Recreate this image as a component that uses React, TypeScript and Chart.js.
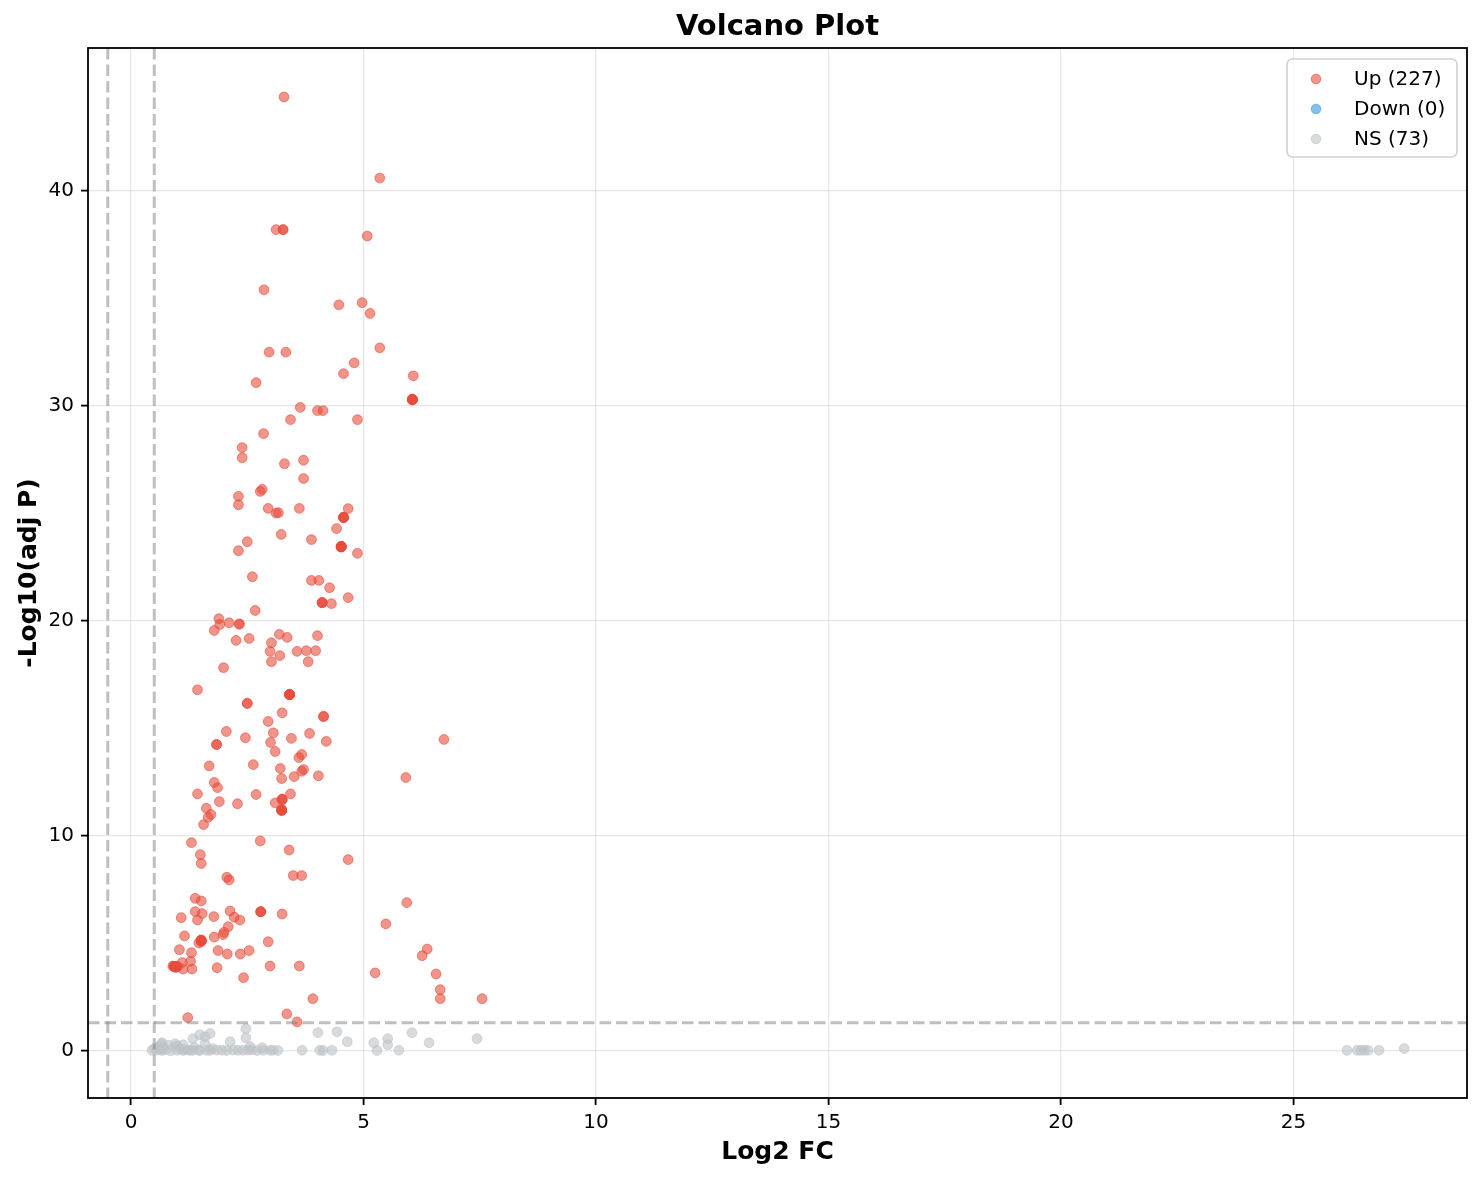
import React, { useEffect, useRef } from "react";
import { Chart, registerables } from "chart.js";

Chart.register(...registerables);

// ---------- data ----------
const upLog2FC = [
  3.29, 5.35, 3.12, 3.27, 3.27, 5.08, 2.86, 4.47, 4.97, 5.14, 2.97, 3.33, 5.35, 4.80, 4.57, 2.69, 6.07,
  6.05, 6.05, 6.05, 6.05, 6.05, 6.05,
  3.64, 4.01, 4.13, 3.43, 4.87, 2.85, 2.39, 2.39, 3.30, 3.71, 3.71, 2.82, 2.78, 2.31, 2.31, 2.95, 3.12, 3.17, 3.62, 4.67,
  4.57, 4.57, 4.57, 4.57,
  4.42, 3.23, 3.88, 2.50, 2.31,
  4.52, 4.52, 4.52, 4.52, 4.52, 4.52, 4.52,
  4.87, 2.61, 3.88, 4.04, 4.27, 4.67,
  4.11, 4.11, 4.11,
  4.31, 2.67, 1.89, 1.91, 2.11,
  2.33, 2.33,
  1.79, 2.26, 2.54, 3.19, 3.36, 4.01, 3.02, 2.99, 3.20, 3.57, 3.77, 3.97, 3.02, 3.81, 1.99, 1.43,
  3.41, 3.41, 3.41, 3.41, 3.41,
  2.50, 2.50,
  3.25, 2.95,
  4.14, 4.14,
  2.05, 3.06, 2.46, 3.84, 3.45, 4.20, 3.00,
  1.84, 1.84,
  3.10, 3.67, 3.61, 1.68, 2.63, 3.21, 3.71, 3.67, 3.24, 3.51, 4.03, 5.91, 1.79, 1.86, 1.43, 2.69, 3.43,
  3.25, 3.25, 3.25,
  3.10, 1.90, 2.29,
  3.24, 3.24, 3.24, 3.24, 3.24,
  1.62, 1.72, 1.66, 1.56, 1.30, 2.78, 1.49, 1.51, 3.40, 4.67, 6.73, 2.06, 2.11, 3.49, 3.67, 1.38, 1.51, 5.93, 1.38, 1.53,
  1.43, 1.08, 1.78, 2.13, 2.22, 2.34,
  2.79, 2.79, 2.79,
  3.25, 5.48, 2.09, 2.00, 1.98, 1.15, 1.79,
  1.51, 1.51, 1.51, 1.51, 1.51, 1.51,
  1.46, 2.95, 6.37, 6.26, 1.04, 1.30, 1.87, 2.07, 2.35, 2.54, 1.28,
  0.92, 0.94, 0.95, 0.96, 0.98, 0.90, 0.93, 0.97, 1.00, 0.95,
  1.12, 1.31, 1.10, 1.85, 2.99, 3.62, 5.25, 6.56, 2.42, 6.65, 6.65, 7.55, 3.91, 1.22, 3.35, 3.57,
];
const upNegLog10P = [
  44.37, 40.6, 38.2, 38.2, 38.2, 37.9, 35.4, 34.7, 34.8, 34.3, 32.5, 32.5, 32.7, 32.0, 31.5, 31.08, 31.4,
  30.29, 30.29, 30.32, 30.27, 30.3, 30.3,
  29.93, 29.78, 29.78, 29.36, 29.36, 28.71, 28.06, 27.59, 27.31, 27.47, 26.62, 26.12, 26.02, 25.79, 25.4, 25.23, 25.01, 25.03, 25.23, 25.22,
  24.81, 24.81, 24.83, 24.79,
  24.29, 24.02, 23.78, 23.68, 23.26,
  23.45, 23.45, 23.47, 23.43, 23.45, 23.46, 23.44,
  23.14, 22.05, 21.88, 21.88, 21.54, 21.08,
  20.84, 20.84, 20.86,
  20.80, 20.48, 20.1, 19.83, 19.91,
  19.86, 19.84,
  19.55, 19.09, 19.18, 19.37, 19.23, 19.31, 18.98, 18.58, 18.38, 18.58, 18.61, 18.61, 18.1, 18.1, 17.82, 16.79,
  16.57, 16.57, 16.59, 16.55, 16.57,
  16.17, 16.15,
  15.72, 15.32,
  15.56, 15.54,
  14.85, 14.79, 14.56, 14.76, 14.53, 14.39, 14.34,
  14.25, 14.24,
  13.92, 13.78, 13.64, 13.25, 13.31, 13.13, 13.08, 13.0, 12.66, 12.75, 12.79, 12.71, 12.48, 12.24, 11.95, 11.92, 11.95,
  11.69, 11.71, 11.67,
  11.53, 11.59, 11.49,
  11.19, 11.21, 11.17, 11.2, 11.19,
  11.28, 10.99, 10.86, 10.52, 9.68, 9.76, 9.12, 8.71, 9.34, 8.89, 14.48, 8.07, 7.95, 8.15, 8.15, 7.09, 6.97, 6.89, 6.47, 6.38,
  6.08, 6.19, 6.24, 6.5, 6.21, 6.08,
  6.47, 6.47, 6.46,
  6.36, 5.90, 5.77, 5.51, 5.40, 5.34, 5.29,
  5.12, 5.14, 5.10, 5.16, 5.08, 5.12,
  5.01, 5.07, 4.73, 4.42, 4.70, 4.56, 4.66, 4.50, 4.50, 4.66, 4.16,
  3.93, 3.90, 3.91, 3.92, 3.89, 3.94, 3.90, 3.88, 3.92, 3.91,
  3.80, 3.80, 4.10, 3.86, 3.94, 3.94, 3.62, 3.57, 3.40, 2.84, 2.42, 2.42, 2.42, 1.54, 1.71, 1.34,
];

const downLog2FC: number[] = [];
const downNegLog10P: number[] = [];

const nsLog2FC = [
  0.45, 0.56, 0.67, 0.99, 1.12, 1.23, 1.33, 1.48, 1.63, 1.85, 1.96, 2.06, 2.41, 2.52, 2.71, 2.84, 2.99, 3.16,
  3.68, 4.06, 4.13, 4.32, 5.29, 5.76,
  0.67, 0.99, 1.12, 1.33, 1.48, 1.59, 1.70, 1.59, 2.13, 2.47, 2.47, 2.56, 2.82, 4.02, 4.43, 4.65, 5.22, 5.52,
  5.52, 6.04, 6.41, 7.44,
  26.15, 26.37, 26.45, 26.52, 26.60, 26.84, 27.38,
  0.50, 0.60, 0.65, 0.70, 0.75, 0.80, 0.85, 0.62, 1.05, 1.15, 1.28, 1.36, 1.45, 1.70, 1.75, 2.20, 2.30, 2.60,
  3.05, 0.95,
];
const nsNegLog10P = [
  0.02, 0.03, 0.01, 0.02, 0.01, 0.03, 0.02, 0.01, 0.02, 0.03, 0.02, 0.01, 0.02, 0.03, 0.01, 0.02, 0.02, 0.01,
  0.02, 0.02, 0.01, 0.02, 0.01, 0.02,
  0.37, 0.23, 0.28, 0.56, 0.74, 0.65, 0.80, 0.33, 0.42, 1.02, 0.60, 0.19, 0.14, 0.84, 0.88, 0.42, 0.37, 0.56,
  0.28, 0.84, 0.37, 0.56,
  0.02, 0.02, 0.02, 0.02, 0.02, 0.02, 0.10,
  0.10, 0.20, 0.30, 0.12, 0.05, 0.25, 0.00, 0.05, 0.10, 0.05, 0.02, 0.15, 0.03, 0.02, 0.10, 0.03, 0.02, 0.04,
  0.02, 0.32,
];

const seriesLabels = ["Up (227)", "Down (0)", "NS (73)"];
const xTicks = [0, 5, 10, 15, 20, 25];
const yTicks = [0, 10, 20, 30, 40];
const fcThresholds = [-0.5, 0.5];
const pThreshold = 1.3;

const RED = "231,76,60";
const BLUE = "52,152,219";
const GREY = "189,195,199";
const FONT = "'DejaVu Sans', 'Liberation Sans', sans-serif";

const toPoints = (xs: number[], ys: number[]) => xs.map((x, i) => ({ x, y: ys[i] }));

const overlay = {
  id: "overlay",
  afterDatasetsDraw(chart: any) {
    const { ctx, chartArea: a, scales } = chart;
    const sx = scales.x;
    const sy = scales.y;
    ctx.save();
    ctx.beginPath();
    ctx.rect(a.left, a.top, a.right - a.left, a.bottom - a.top);
    ctx.clip();
    ctx.strokeStyle = "rgba(128,128,128,0.5)";
    ctx.lineWidth = 3;
    ctx.setLineDash([11.5, 5]);
    fcThresholds.forEach((v) => {
      const px = sx.getPixelForValue(v);
      ctx.beginPath();
      ctx.moveTo(px, a.top);
      ctx.lineTo(px, a.bottom);
      ctx.stroke();
    });
    const py = sy.getPixelForValue(pThreshold);
    ctx.beginPath();
    ctx.moveTo(a.left, py);
    ctx.lineTo(a.right, py);
    ctx.stroke();
    ctx.restore();
  },
  afterDraw(chart: any) {
    const { ctx, chartArea: a } = chart;
    ctx.save();
    // spines
    ctx.strokeStyle = "#000";
    ctx.lineWidth = 1.8;
    ctx.strokeRect(a.left, a.top, a.right - a.left, a.bottom - a.top);

    // titles
    ctx.fillStyle = "#000";
    ctx.textAlign = "center";
    ctx.textBaseline = "middle";
    ctx.font = `bold 29px ${FONT}`;
    ctx.fillText("Volcano Plot", (a.left + a.right) / 2, 27);
    ctx.font = `bold 25px ${FONT}`;
    ctx.fillText("Log2 FC", (a.left + a.right) / 2, 1152);
    ctx.save();
    ctx.translate(29, (a.top + a.bottom) / 2);
    ctx.rotate(-Math.PI / 2);
    ctx.fillText("-Log10(adj P)", 0, 0);
    ctx.restore();

    // legend
    const bx = 1287, by = 59, bw = 170, bh = 98, r = 6;
    ctx.beginPath();
    ctx.moveTo(bx + r, by);
    ctx.lineTo(bx + bw - r, by);
    ctx.quadraticCurveTo(bx + bw, by, bx + bw, by + r);
    ctx.lineTo(bx + bw, by + bh - r);
    ctx.quadraticCurveTo(bx + bw, by + bh, bx + bw - r, by + bh);
    ctx.lineTo(bx + r, by + bh);
    ctx.quadraticCurveTo(bx, by + bh, bx, by + bh - r);
    ctx.lineTo(bx, by + r);
    ctx.quadraticCurveTo(bx, by, bx + r, by);
    ctx.closePath();
    ctx.fillStyle = "rgba(255,255,255,0.8)";
    ctx.fill();
    ctx.strokeStyle = "#d0d0d0";
    ctx.lineWidth = 1.5;
    ctx.stroke();

    const cols = [RED, BLUE, GREY];
    const rows = [79, 109, 139];
    ctx.font = `20px ${FONT}`;
    ctx.textAlign = "left";
    ctx.textBaseline = "middle";
    chart.data.datasets.forEach((ds: any, i: number) => {
      ctx.beginPath();
      ctx.arc(1316, rows[i], 4.8, 0, Math.PI * 2);
      ctx.fillStyle = `rgba(${cols[i]},0.6)`;
      ctx.fill();
      ctx.strokeStyle = `rgba(${cols[i]},0.6)`;
      ctx.lineWidth = 1;
      ctx.stroke();
      ctx.fillStyle = "#000";
      ctx.fillText(ds.label, 1354, rows[i] + 1);
    });
    ctx.restore();
  },
};

export default function App() {
  const ref = useRef<HTMLCanvasElement | null>(null);

  useEffect(() => {
    document.body.style.margin = "0";
    const canvas = ref.current;
    if (!canvas) return;
    const mk = (label: string, col: string, data: any[]) => ({
      label,
      data,
      backgroundColor: `rgba(${col},0.6)`,
      borderColor: `rgba(${col},0.6)`,
      borderWidth: 1,
      pointRadius: 4.9,
      pointHoverRadius: 4.9,
    });
    const chart = new Chart(canvas, {
      type: "scatter",
      data: {
        datasets: [
          mk(seriesLabels[0], RED, toPoints(upLog2FC, upNegLog10P)),
          mk(seriesLabels[1], BLUE, toPoints(downLog2FC, downNegLog10P)),
          mk(seriesLabels[2], GREY, toPoints(nsLog2FC, nsNegLog10P)),
        ],
      },
      options: {
        responsive: false,
        animation: false,
        devicePixelRatio: 1,
        layout: { padding: { left: 0, top: 48, right: 15, bottom: 0 } },
        plugins: {
          legend: { display: false },
          title: { display: false },
          tooltip: { enabled: false },
        },
        scales: {
          x: {
            type: "linear",
            min: -0.925,
            max: 28.73,
            afterBuildTicks: (s: any) => {
              s.ticks = xTicks.map((v) => ({ value: v }));
            },
            afterFit: (s: any) => {
              s.height = 82;
            },
            ticks: {
              color: "#000",
              font: { family: FONT, size: 20 },
              padding: 6,
              maxRotation: 0,
              callback: (v: any) => String(v),
            },
            grid: {
              color: "rgba(176,176,176,0.3)",
              lineWidth: 1.2,
              tickColor: "#000",
              tickLength: 7,
              tickWidth: 1.8,
            },
            border: { display: false },
          },
          y: {
            type: "linear",
            min: -2.2,
            max: 46.65,
            afterBuildTicks: (s: any) => {
              s.ticks = yTicks.map((v) => ({ value: v }));
            },
            afterFit: (s: any) => {
              s.width = 88;
            },
            ticks: {
              color: "#000",
              font: { family: FONT, size: 20 },
              padding: 7,
              callback: (v: any) => String(v),
            },
            grid: {
              color: "rgba(176,176,176,0.3)",
              lineWidth: 1.2,
              tickColor: "#000",
              tickLength: 7,
              tickWidth: 1.8,
            },
            border: { display: false },
          },
        },
      },
      plugins: [overlay],
    });
    return () => chart.destroy();
  }, []);

  return (
    <div style={{ width: 1482, height: 1180, background: "#fff" }}>
      <canvas ref={ref} width={1482} height={1180} style={{ display: "block" }} />
    </div>
  );
}
